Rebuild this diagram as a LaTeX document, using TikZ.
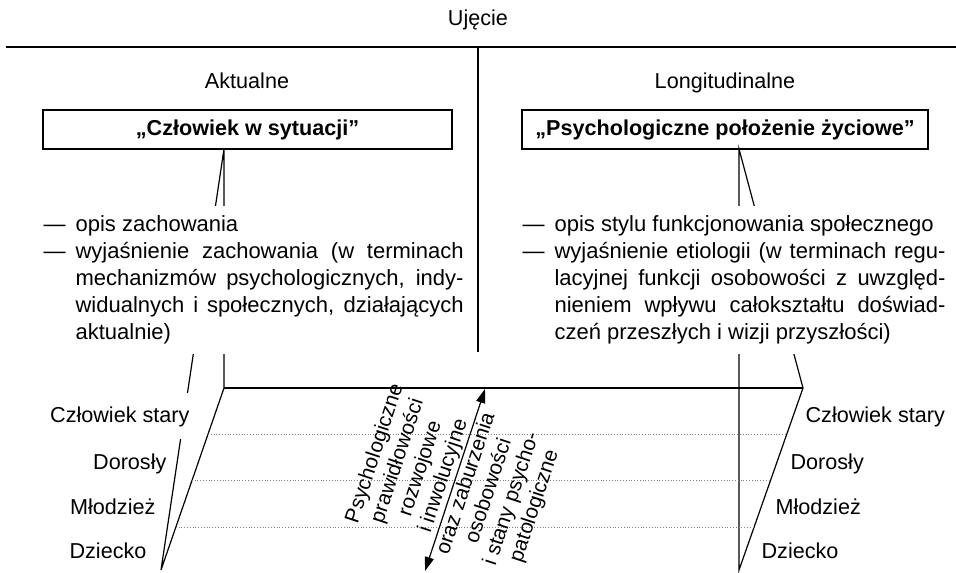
\documentclass[tikz,border=0pt]{standalone}
\usepackage{fontspec}
\setmainfont{Liberation Sans}
\usetikzlibrary{calc,arrows.meta}

\begin{document}
\begin{tikzpicture}[x=0.5pt,y=-0.5pt,line width=0.6pt,
    every node/.style={font=\fontsize{10.8}{13.5}\selectfont,inner sep=0pt},
    tytul/.style={draw,font=\fontsize{10.8}{13.5}\selectfont\bfseries,minimum height=19.5pt},
    blok/.style={fill=white,align=left,inner ysep=5pt,anchor=north west,
      font=\fontsize{11}{13.5}\selectfont},
    wiek/.style={fill=white,inner xsep=1pt,inner ysep=6.5pt},
    poziom/.style={densely dotted,line width=0.4pt,gray},
    strz/.style={{Triangle[length=7pt,width=4.5pt]}-{Triangle[length=7pt,width=4.5pt]}}]
  \useasboundingbox (0,0) rectangle (956,572);

  \node[anchor=base] (ujecie) at (478,26) {Ujęcie};
  \coordinate (gL) at (6,47);
  \coordinate (gR) at (956,47);
  \coordinate (sG) at (478,47);
  \coordinate (sD) at (478,352);
  \draw (gL) -- (gR);
  \draw (sG) -- (sD);

  \node[anchor=base] (akt) at (247,89) {Aktualne};
  \node[anchor=base] (lon) at (725,89) {Longitudinalne};
  \node[tytul,minimum width=204.5pt] (boxL) at (247.5,129.5) {„Człowiek w sytuacji”};
  \node[tytul,minimum width=203pt] (boxR) at (725,129.5) {„Psychologiczne położenie życiowe”};

  % trapez lewy i prawy
  \coordinate (L1) at (224,149);
  \coordinate (L2) at (224,388);
  \coordinate (L3) at (161,570);
  \coordinate (R1) at (739,149);
  \coordinate (R2) at (803,388);
  \coordinate (R3) at (739,570);
  \draw (L1) -- (L2) -- (L3) -- cycle;
  \draw (R1) -- (R3) -- (R2) -- cycle;
  \draw (L2) -- (R2);
  \foreach \t in {0.255,0.51,0.765}
    \draw[poziom] ($(L2)!\t!(L3)$) -- ($(R2)!\t!(R3)$);

  \node[blok] (opisL) at (43,205) {%
    \makebox[16pt][l]{—}opis zachowania\\
    \makebox[16pt][l]{—}\parbox[t]{194pt}{wyjaśnienie zachowania (w terminach\linebreak
    mechanizmów psychologicznych, indy-\linebreak
    widualnych i społecznych, działających\linebreak
    aktualnie)}};
  \node[blok] (opisR) at (522,205) {%
    \makebox[16pt][l]{—}opis stylu funkcjonowania społecznego\\
    \makebox[16pt][l]{—}\parbox[t]{195.5pt}{wyjaśnienie etiologii (w terminach regu-\linebreak
    lacyjnej funkcji osobowości z uwzględ-\linebreak
    nieniem wpływu całokształtu doświad-\linebreak
    czeń przeszłych i wizji przyszłości)}};

  \node[wiek,anchor=base east] (lS) at (192,422) {Człowiek stary};
  \node[wiek,anchor=base east] (lD) at (169,469) {Dorosły};
  \node[wiek,anchor=base east] (lM) at (158,514) {Młodzież};
  \node[wiek,anchor=base east] (lC) at (149,558) {Dziecko};
  \node[wiek,anchor=base west] (rS) at (803,422) {Człowiek stary};
  \node[wiek,anchor=base west] (rD) at (788,469) {Dorosły};
  \node[wiek,anchor=base west] (rM) at (773,514) {Młodzież};
  \node[wiek,anchor=base west] (rC) at (759,558) {Dziecko};

  \coordinate (aD) at (425,571);
  \coordinate (aG) at (485,389);
  \draw[strz] (aD) -- node[sloped,align=center,font=\fontsize{10.4}{12}\selectfont] (opisS)
    {Psychologiczne\\prawidłowości\\rozwojowe\\i inwolucyjne\\oraz zaburzenia\\osobowości\\i stany psycho-\\patologiczne} (aG);
\end{tikzpicture}
\end{document}
